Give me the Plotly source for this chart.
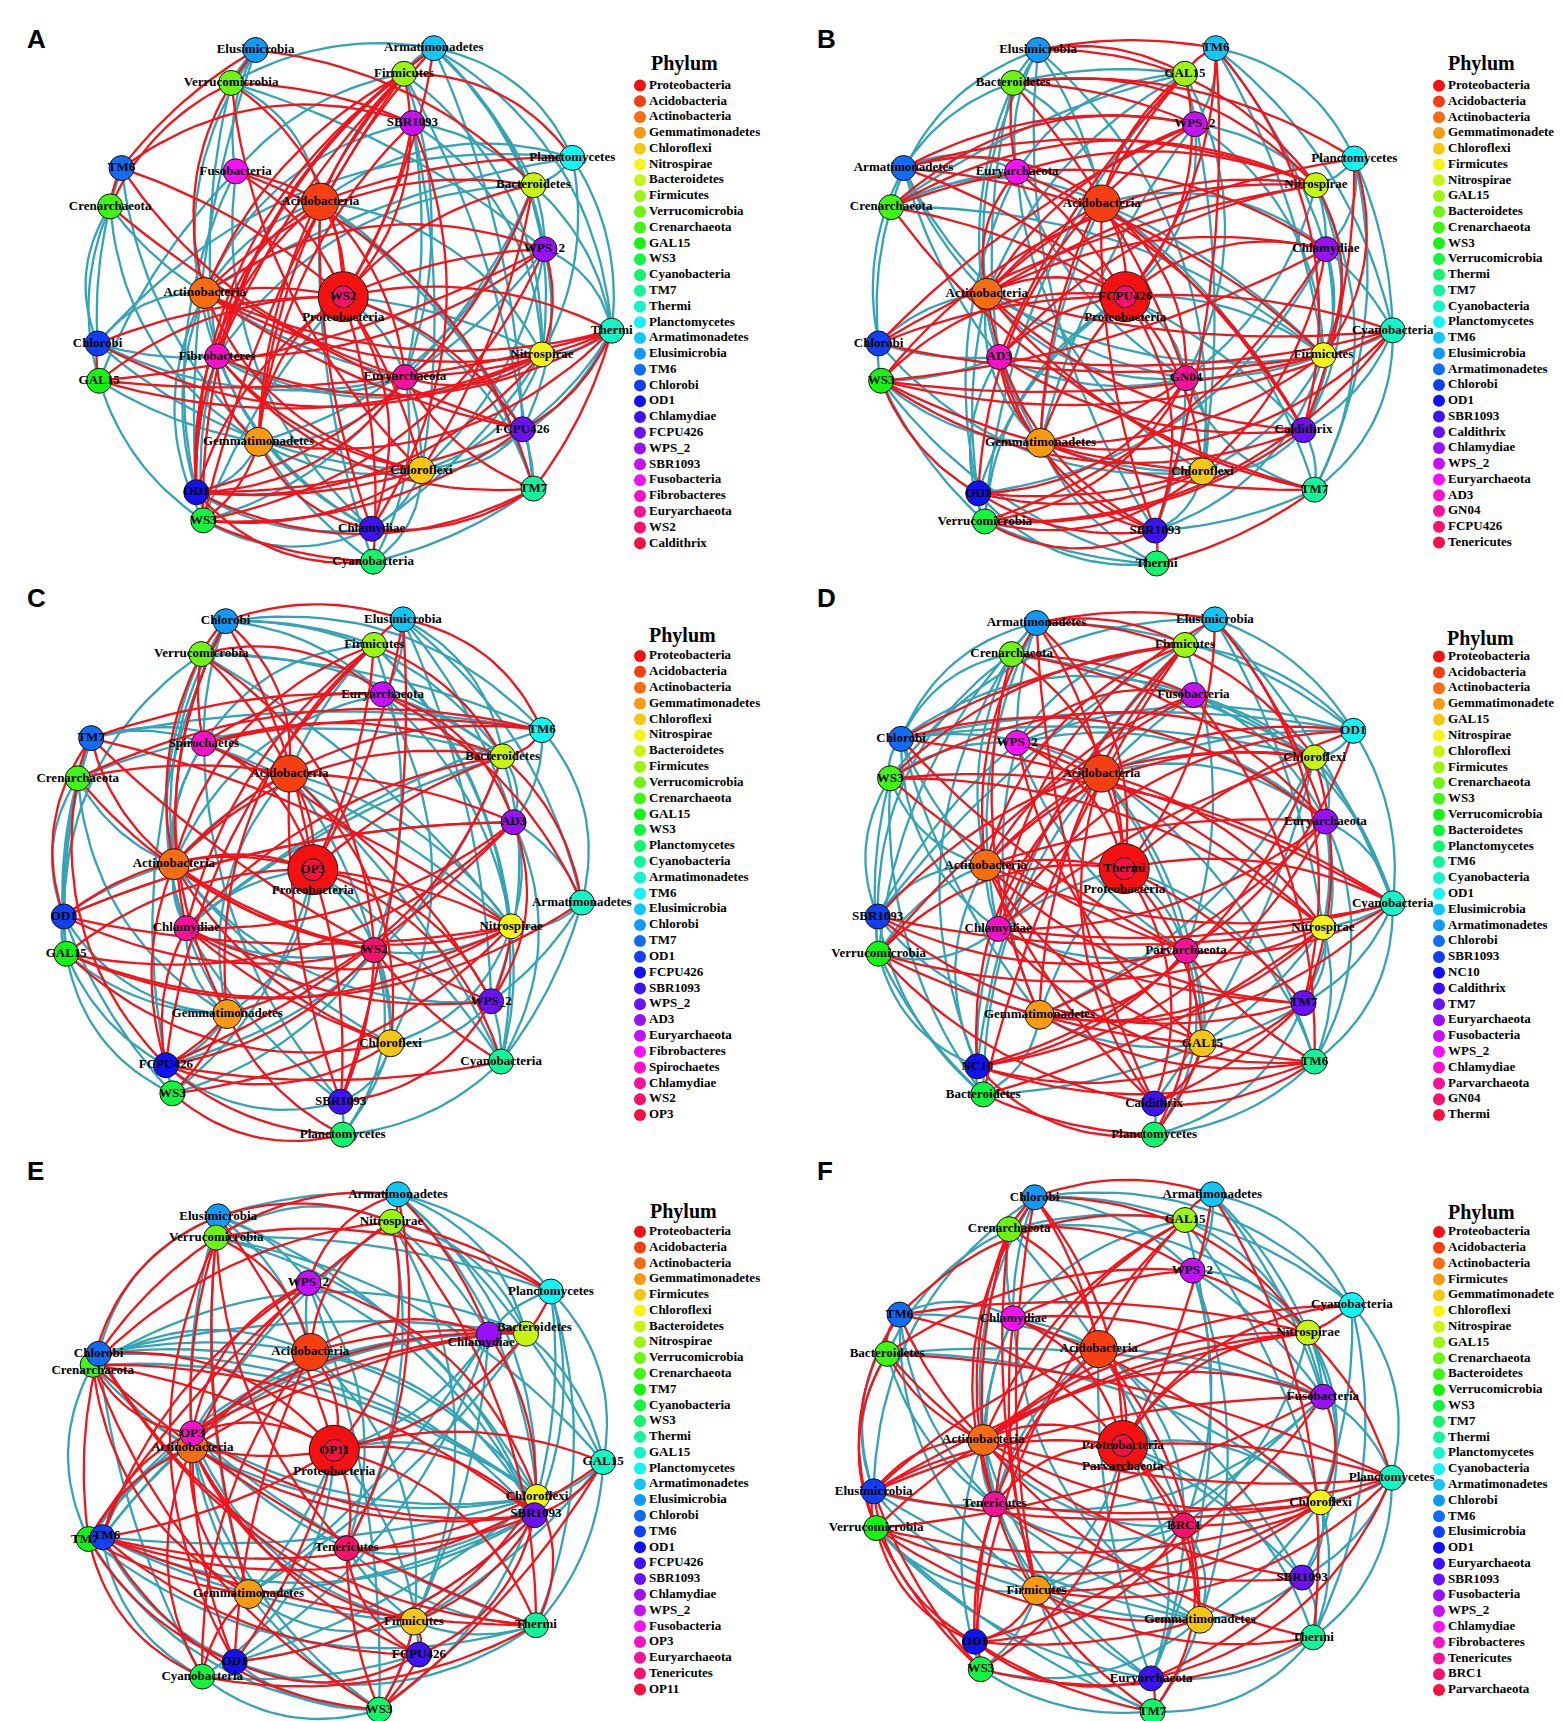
import math
import colorsys
import plotly.graph_objects as go

W, H = 1562, 1721

# ---------------- data ----------------
# node names by slot, coordinates in panel units (0..1568 each way), legend order (abundance rank)
A_nodes = ["Elusimicrobia", "Verrucomicrobia", "Armatimonadetes", "Firmicutes", "SBR1093", "Planctomycetes",
           "TM6", "Fusobacteria", "Crenarchaeota", "Bacteroidetes", "Acidobacteria", "WPS_2", "Actinobacteria",
           "Proteobacteria", "Thermi", "Chlorobi", "Fibrobacteres", "Nitrospirae", "GAL15", "Euryarchaeota",
           "FCPU426", "Gemmatimonadetes", "Chloroflexi", "TM7", "OD1", "WS3", "Chlamydiae", "Cyanobacteria", "WS2"]
A_x = [497, 448, 855, 795, 812, 1133, 228, 457, 205, 1055, 627, 1077, 395, 673, 1212, 180, 420, 1072, 183, 797,
       1033, 503, 830, 1055, 378, 392, 730, 733, 673]
A_y = [115, 205, 110, 180, 315, 410, 438, 447, 543, 485, 530, 660, 780, 790, 883, 918, 953, 948, 1020, 1010,
       1153, 1187, 1265, 1315, 1325, 1402, 1425, 1515, 790]
A_legend = ["Proteobacteria", "Acidobacteria", "Actinobacteria", "Gemmatimonadetes", "Chloroflexi", "Nitrospirae",
            "Bacteroidetes", "Firmicutes", "Verrucomicrobia", "Crenarchaeota", "GAL15", "WS3", "Cyanobacteria",
            "TM7", "Thermi", "Planctomycetes", "Armatimonadetes", "Elusimicrobia", "TM6", "Chlorobi", "OD1",
            "Chlamydiae", "FCPU426", "WPS_2", "SBR1093", "Fusobacteria", "Fibrobacteres", "Euryarchaeota", "WS2",
            "Caldithrix"]
A_red = ("0-6 0-9 0-12 1-4 1-8 1-13 2-13 2-16 2-25 3-10 3-12 3-13 3-16 3-21 3-24 4-13 4-21 4-26 6-8 6-19 6-4 "
         "7-10 7-13 7-23 8-20 9-13 9-12 9-22 10-13 10-24 10-26 10-19 11-12 11-13 11-16 11-25 12-13 12-17 12-22 "
         "13-15 13-18 13-21 13-22 13-24 13-26 13-27 13-20 14-16 14-19 14-20 14-21 14-23 14-13 15-17 15-18 16-22 "
         "16-23 16-24 17-18 17-24 18-14 19-23 19-24 20-24 21-25 21-26 22-24 22-25 24-27 25-27 23-26 5-3 5-10 "
         "11-17 16-21 3-25 2-21 10-16 12-20 14-12 17-19 18-11 20-25 24-23 6-13 1-22 9-24")
A_teal = ("0-1 0-7 0-16 0-24 1-2 1-10 1-11 2-3 2-5 2-9 2-11 2-17 2-20 3-7 3-17 3-23 4-9 4-17 4-22 5-9 5-10 5-12 "
          "5-14 5-15 7-18 7-24 7-26 8-12 8-18 8-21 9-11 9-14 9-16 9-19 10-12 10-17 10-20 10-23 11-14 11-19 11-20 "
          "12-15 12-19 12-24 12-25 13-17 13-19 13-23 13-25 14-17 14-22 15-16 15-22 16-19 16-25 16-26 17-22 17-26 "
          "18-25 19-21 19-22 19-25 20-22 20-23 21-22 21-24 21-27 22-26 22-27 23-27 24-26 25-26 6-15 6-21 8-15 "
          "1-16 3-19 4-12 4-19 5-17 9-21 10-27 11-22 12-26 14-20 15-19 16-17 18-21 19-27 2-14")

B_nodes = ["Elusimicrobia", "Bacteroidetes", "TM6", "GAL15", "WPS_2", "Planctomycetes", "Armatimonadetes",
           "Euryarchaeota", "Crenarchaeota", "Nitrospirae", "Acidobacteria", "Chlamydiae", "Actinobacteria",
           "Proteobacteria", "Cyanobacteria", "Chlorobi", "AD3", "Firmicutes", "WS3", "GN04", "Caldithrix",
           "Gemmatimonadetes", "Chloroflexi", "TM7", "OD1", "Verrucomicrobia", "SBR1093", "Thermi", "FCPU426"]
B_x = [500, 450, 857, 795, 815, 1135, 230, 458, 205, 1058, 628, 1078, 397, 675, 1212, 180, 422, 1073, 185, 797,
       1033, 505, 830, 1055, 380, 393, 735, 738, 675]
B_y = [115, 205, 110, 180, 318, 412, 438, 448, 545, 485, 535, 660, 782, 790, 882, 918, 955, 950, 1020, 1013,
       1155, 1190, 1268, 1318, 1328, 1405, 1430, 1520, 790]
B_legend = ["Proteobacteria", "Acidobacteria", "Actinobacteria", "Gemmatimonadetes", "Chloroflexi", "Firmicutes",
            "Nitrospirae", "GAL15", "Bacteroidetes", "Crenarchaeota", "WS3", "Verrucomicrobia", "Thermi", "TM7",
            "Cyanobacteria", "Planctomycetes", "TM6", "Elusimicrobia", "Armatimonadetes", "Chlorobi", "OD1",
            "SBR1093", "Caldithrix", "Chlamydiae", "WPS_2", "Euryarchaeota", "AD3", "GN04", "FCPU426",
            "Tenericutes"]
B_red = ("0-2 0-3 0-9 1-4 1-5 1-9 1-19 2-3 2-20 2-26 3-10 3-13 3-16 4-6 4-8 4-15 4-12 5-17 5-20 6-9 6-10 6-13 "
         "6-17 7-12 7-13 7-20 8-9 8-13 8-23 9-12 9-15 9-16 9-18 10-12 10-13 10-19 10-20 11-12 11-13 11-18 11-22 "
         "12-13 12-14 12-20 12-26 13-14 13-16 13-18 13-21 13-22 13-26 14-16 14-18 14-25 15-13 16-21 16-26 17-18 "
         "17-21 18-20 18-22 18-24 19-24 19-21 20-25 21-26 21-23 22-24 22-25 23-27 24-26 25-26 26-27 11-25 17-9 "
         "1-7 3-21 4-24 5-12 7-9 8-11 10-26 12-23 14-21 15-17 16-20 19-25 24-22 2-13")
B_teal = ("0-1 0-7 0-8 0-10 0-12 0-22 1-3 1-6 1-10 1-16 2-4 2-5 2-11 2-14 3-7 3-8 3-12 3-19 3-22 4-9 4-17 4-21 "
          "5-9 5-11 5-14 5-23 6-7 6-16 6-15 6-19 7-8 7-24 7-22 8-15 8-17 8-10 9-11 9-19 9-23 10-17 10-23 10-11 "
          "11-14 11-20 11-24 12-16 12-17 12-19 12-24 13-17 13-19 13-20 13-24 13-25 14-17 14-20 14-23 15-18 15-12 "
          "15-22 16-18 16-19 16-25 17-19 17-22 17-26 18-25 18-27 19-22 19-26 20-23 20-22 21-22 21-27 22-26 23-26 "
          "24-25 24-27 25-27 0-26 1-21 2-17 3-25 4-13 6-12 7-19 9-20 10-21 11-17 12-21 15-16 18-21 19-23")

C_nodes = ["Chlorobi", "Verrucomicrobia", "Elusimicrobia", "Firmicutes", "Euryarchaeota", "TM6", "TM7",
           "Spirochaetes", "Crenarchaeota", "Bacteroidetes", "Acidobacteria", "AD3", "Actinobacteria",
           "Proteobacteria", "Armatimonadetes", "OD1", "Chlamydiae", "Nitrospirae", "GAL15", "WS2", "WPS_2",
           "Gemmatimonadetes", "Chloroflexi", "Cyanobacteria", "FCPU426", "WS3", "SBR1093", "Planctomycetes", "OP3"]
C_x = [437, 388, 793, 735, 752, 1072, 167, 393, 140, 993, 565, 1015, 333, 612, 1152, 112, 358, 1010, 117, 735,
       970, 440, 768, 990, 317, 330, 668, 672, 612]
C_y = [110, 200, 105, 175, 310, 408, 430, 445, 540, 480, 527, 660, 775, 790, 880, 918, 950, 945, 1020, 1010,
       1150, 1185, 1265, 1315, 1325, 1402, 1425, 1515, 790]
C_legend = ["Proteobacteria", "Acidobacteria", "Actinobacteria", "Gemmatimonadetes", "Chloroflexi", "Nitrospirae",
            "Bacteroidetes", "Firmicutes", "Verrucomicrobia", "Crenarchaeota", "GAL15", "WS3", "Planctomycetes",
            "Cyanobacteria", "Armatimonadetes", "TM6", "Elusimicrobia", "Chlorobi", "TM7", "OD1", "FCPU426",
            "SBR1093", "WPS_2", "AD3", "Euryarchaeota", "Fibrobacteres", "Spirochaetes", "Chlamydiae", "WS2", "OP3"]
C_red = ("0-1 0-2 0-10 0-13 0-16 1-4 1-10 1-12 1-19 1-7 2-3 2-5 2-26 3-9 3-12 3-13 3-16 3-21 4-6 4-7 4-11 5-7 "
         "5-8 5-9 6-8 6-12 6-15 6-20 7-9 7-13 8-10 8-19 8-24 9-13 9-16 9-21 10-11 10-13 10-22 11-15 11-16 11-20 "
         "11-24 12-13 12-17 12-19 12-24 13-15 13-17 13-18 13-20 13-26 14-4 14-18 15-17 15-19 16-17 16-22 16-24 "
         "17-18 17-20 17-25 18-11 19-23 19-24 20-26 21-25 21-27 22-24 23-24 24-27 25-27 26-19 14-9 "
         "0-21 2-13 3-24 5-12 6-17 7-20 9-12 10-26 12-22 13-23 15-11 16-20 18-22 24-21")
C_teal = ("0-3 0-4 0-5 0-7 0-12 0-9 1-5 1-9 1-15 1-17 2-4 2-9 2-11 2-14 3-7 3-10 3-19 3-23 4-9 4-17 4-22 5-6 "
          "5-11 5-14 5-16 6-7 6-10 6-18 7-12 7-16 7-17 8-12 8-15 8-18 8-9 9-11 9-16 9-20 9-24 10-12 10-17 10-21 "
          "10-23 11-14 11-23 12-15 12-16 12-20 12-22 13-16 13-21 13-23 13-25 14-17 14-23 15-18 15-21 15-25 16-19 "
          "16-21 16-26 17-19 17-22 17-23 18-21 18-25 19-22 19-25 20-22 20-23 21-24 22-26 22-27 23-27 24-26 26-27 "
          "0-25 1-21 2-20 3-17 4-12 6-15 7-26 8-21 10-19 11-17 13-22 14-20 18-24 19-27")

D_nodes = ["Armatimonadetes", "Crenarchaeota", "Elusimicrobia", "Firmicutes", "Fusobacteria", "OD1", "Chlorobi",
           "WPS_2", "WS3", "Chloroflexi", "Acidobacteria", "Euryarchaeota", "Actinobacteria", "Proteobacteria",
           "Cyanobacteria", "SBR1093", "Chlamydiae", "Nitrospirae", "Verrucomicrobia", "Parvarchaeota", "TM7",
           "Gemmatimonadetes", "GAL15", "TM6", "NC10", "Bacteroidetes", "Caldithrix", "Planctomycetes", "Thermi"]
D_x = [497, 447, 855, 795, 812, 1133, 225, 458, 203, 1055, 627, 1077, 395, 673, 1212, 178, 420, 1072, 180, 797,
       1033, 503, 830, 1055, 378, 390, 733, 733, 673]
D_y = [115, 200, 105, 175, 312, 410, 432, 443, 540, 483, 527, 658, 778, 787, 882, 918, 952, 948, 1020, 1012,
       1155, 1187, 1265, 1315, 1328, 1405, 1430, 1515, 787]
D_legend = ["Proteobacteria", "Acidobacteria", "Actinobacteria", "Gemmatimonadetes", "GAL15", "Nitrospirae",
            "Chloroflexi", "Firmicutes", "Crenarchaeota", "WS3", "Verrucomicrobia", "Bacteroidetes",
            "Planctomycetes", "TM6", "Cyanobacteria", "OD1", "Elusimicrobia", "Armatimonadetes", "Chlorobi",
            "SBR1093", "NC10", "Caldithrix", "TM7", "Euryarchaeota", "Fusobacteria", "WPS_2", "Chlamydiae",
            "Parvarchaeota", "GN04", "Thermi"]
D_red = ("0-2 0-3 0-9 0-10 0-12 0-13 1-4 1-11 1-13 2-11 2-13 2-20 3-6 3-8 3-12 3-16 3-21 4-7 4-18 4-23 5-12 "
         "5-13 5-19 6-11 6-14 7-10 7-13 7-17 7-22 8-9 8-19 8-17 9-12 9-16 9-20 9-24 10-13 10-17 10-26 11-12 11-16 "
         "11-24 12-13 12-14 12-23 12-26 13-14 13-18 13-20 13-22 13-26 14-16 14-19 14-21 15-17 15-19 15-20 16-20 "
         "17-18 17-21 18-22 18-26 19-21 19-23 19-24 20-24 20-26 21-23 22-26 22-27 23-24 24-27 25-27 26-23 15-9 "
         "0-26 1-21 2-16 3-25 4-12 5-16 6-19 8-14 10-24 11-21 12-20 16-23 17-25 19-27")
D_teal = ("0-1 0-5 0-6 0-7 0-16 1-6 1-9 1-12 1-15 2-3 2-5 2-8 2-14 3-5 3-7 3-15 3-24 4-6 4-9 4-11 4-25 5-6 5-7 "
          "5-9 5-10 5-14 6-8 6-9 6-10 6-16 6-21 7-8 7-11 7-15 7-19 8-15 8-18 8-25 9-11 9-14 9-21 10-11 10-19 "
          "10-23 11-14 11-17 11-20 12-15 12-16 12-18 12-24 13-16 13-19 13-23 14-17 14-20 14-23 15-18 15-21 16-18 "
          "16-24 16-19 17-20 17-22 17-23 18-24 18-25 19-22 19-27 20-22 21-22 21-25 22-25 23-27 24-25 26-27 "
          "0-18 1-24 2-17 3-19 4-14 6-12 7-21 8-12 9-26 10-22 11-23 13-21 15-25 20-27")

E_nodes = ["Elusimicrobia", "Verrucomicrobia", "Armatimonadetes", "Nitrospirae", "WPS_2", "Planctomycetes",
           "Bacteroidetes", "Chlamydiae", "Crenarchaeota", "Chlorobi", "Acidobacteria", "Actinobacteria", "OP3",
           "Proteobacteria", "GAL15", "Chloroflexi", "SBR1093", "TM7", "TM6", "Tenericutes", "Gemmatimonadetes",
           "Firmicutes", "Thermi", "FCPU426", "OD1", "Cyanobacteria", "WS3", "OP11"]
E_x = [422, 418, 783, 770, 603, 1090, 1040, 965, 170, 182, 607, 370, 370, 655, 1195, 1062, 1057, 162, 190, 680,
       483, 815, 1060, 825, 455, 390, 745, 655]
E_y = [170, 228, 110, 185, 352, 375, 490, 492, 575, 545, 540, 800, 762, 808, 840, 935, 985, 1050, 1045, 1075,
       1200, 1275, 1285, 1365, 1385, 1425, 1515, 808]
E_legend = ["Proteobacteria", "Acidobacteria", "Actinobacteria", "Gemmatimonadetes", "Firmicutes", "Chloroflexi",
            "Bacteroidetes", "Nitrospirae", "Verrucomicrobia", "Crenarchaeota", "TM7", "Cyanobacteria", "WS3",
            "Thermi", "GAL15", "Planctomycetes", "Armatimonadetes", "Elusimicrobia", "Chlorobi", "TM6", "OD1",
            "FCPU426", "SBR1093", "Chlamydiae", "WPS_2", "Fusobacteria", "OP3", "Euryarchaeota", "Tenericutes",
            "OP11"]
E_red = ("0-1 0-3 0-8 0-13 1-2 1-10 1-11 1-19 1-24 1-9 2-3 2-4 2-7 3-8 3-13 3-17 3-22 4-12 4-11 4-18 4-15 5-6 "
         "5-1 6-7 6-10 6-12 7-10 7-11 7-16 8-12 8-13 8-16 8-20 8-22 8-26 9-13 9-17 9-21 10-13 10-11 10-25 12-13 "
         "12-7 12-16 12-18 11-13 11-16 11-21 11-24 13-14 13-16 13-18 13-19 13-22 13-24 14-16 14-18 14-26 15-18 "
         "15-22 16-19 16-21 16-23 17-20 17-24 17-25 18-22 18-23 19-23 19-26 20-25 21-23 21-26 22-25 23-24 23-26 "
         "24-16 25-11 0-20 2-19 3-10 5-3 6-13 9-22 10-24 11-23 12-20 15-21 17-11 18-26")
E_teal = ("0-2 0-4 0-9 0-12 0-15 1-3 1-5 1-14 1-16 1-20 2-5 2-6 2-14 2-15 3-6 3-12 3-19 3-21 4-10 4-16 4-19 4-26 "
          "5-7 5-14 5-15 5-22 6-8 6-9 6-14 6-18 6-20 7-13 7-17 7-21 7-24 8-10 8-11 8-15 8-17 9-10 9-11 9-16 9-25 "
          "10-15 10-16 10-18 12-15 12-21 12-22 11-15 11-18 11-20 11-26 13-15 13-20 13-23 13-25 14-21 14-22 15-19 "
          "15-24 15-26 16-18 16-20 16-24 17-26 18-21 18-24 18-25 19-21 19-22 20-21 20-26 21-22 22-24 23-25 24-26 "
          "25-26 26-21 0-10 2-16 3-7 5-16 6-17 7-20 9-15 10-21 12-19 14-15 17-22 18-15")

F_nodes = ["Chlorobi", "Crenarchaeota", "Armatimonadetes", "GAL15", "WPS_2", "Cyanobacteria", "TM6", "Chlamydiae",
           "Bacteroidetes", "Nitrospirae", "Acidobacteria", "Fusobacteria", "Actinobacteria", "Proteobacteria",
           "Planctomycetes", "Elusimicrobia", "Tenericutes", "Chloroflexi", "Verrucomicrobia", "BRC1", "SBR1093",
           "Firmicutes", "Gemmatimonadetes", "Thermi", "OD1", "WS3", "Euryarchaeota", "TM7", "Parvarchaeota"]
F_x = [493, 442, 850, 795, 810, 1130, 222, 450, 197, 1042, 622, 1072, 390, 670, 1210, 170, 413, 1067, 175, 793,
       1030, 497, 825, 1052, 373, 385, 727, 730, 670]
F_y = [118, 205, 110, 180, 318, 412, 438, 448, 545, 487, 532, 662, 780, 795, 883, 920, 955, 950, 1020, 1013,
       1155, 1190, 1270, 1318, 1330, 1405, 1430, 1520, 795]
F_legend = ["Proteobacteria", "Acidobacteria", "Actinobacteria", "Firmicutes", "Gemmatimonadetes", "Chloroflexi",
            "Nitrospirae", "GAL15", "Crenarchaeota", "Bacteroidetes", "Verrucomicrobia", "WS3", "TM7", "Thermi",
            "Planctomycetes", "Cyanobacteria", "Armatimonadetes", "Chlorobi", "TM6", "Elusimicrobia", "OD1",
            "Euryarchaeota", "SBR1093", "Fusobacteria", "WPS_2", "Chlamydiae", "Fibrobacteres", "Tenericutes",
            "BRC1", "Parvarchaeota"]
F_red = ("0-1 0-2 0-9 0-10 0-13 0-16 0-21 1-4 1-10 1-12 1-16 2-3 2-13 2-23 3-6 3-10 3-12 3-16 4-7 4-8 4-14 5-9 "
         "5-12 6-8 6-9 6-13 6-18 6-12 7-11 7-13 7-21 8-12 8-18 8-14 9-12 9-13 9-15 9-18 10-13 10-15 10-22 11-12 "
         "11-18 11-24 12-13 12-14 12-17 12-15 13-14 13-15 13-16 13-19 13-22 13-25 14-16 14-18 14-26 15-17 15-18 "
         "15-24 16-24 16-20 17-18 17-19 17-21 18-24 18-25 18-22 19-24 20-26 21-23 21-24 22-24 23-25 24-26 24-27 "
         "26-27 17-11 1-21 3-24 5-13 7-17 8-20 10-25 11-15 12-23 14-21 15-25 16-27 19-27")
F_teal = ("0-3 0-4 0-5 0-7 0-12 1-5 1-7 1-8 1-9 1-19 2-4 2-5 2-11 3-7 3-11 3-17 3-26 4-9 4-11 4-22 5-14 5-17 "
          "5-23 6-7 6-10 6-16 6-15 7-10 7-16 7-22 8-11 8-17 8-15 9-11 9-19 9-20 10-11 10-16 10-19 10-26 11-14 "
          "11-16 11-21 12-16 12-19 12-21 12-25 13-17 13-20 13-21 13-26 14-17 14-20 14-23 15-16 15-21 16-19 16-22 "
          "16-26 17-20 17-22 17-23 18-21 18-27 19-21 19-22 19-26 20-22 20-23 21-22 21-25 22-25 22-27 23-26 23-27 "
          "24-25 25-27 0-15 2-9 4-19 6-21 7-12 8-16 9-17 10-20 12-26 13-23 15-22 18-26 21-27")

# ---------------- layout / style ----------------
PANELS = [
    dict(letter="A", nodes=A_nodes, x=A_x, y=A_y, legend=A_legend, red=A_red, teal=A_teal,
         x0=0, y0=0, h=573, lx=28, ly=31, below="outer", lmx=632, ltx=676, lty=55, le0=77.5, le1=535.3),
    dict(letter="B", nodes=B_nodes, x=B_x, y=B_y, legend=B_legend, red=B_red, teal=B_teal,
         x0=781, y0=0, h=573, lx=818, ly=31, below="outer", lmx=1431, ltx=1473, lty=55, le0=77.8, le1=534.6),
    dict(letter="C", nodes=C_nodes, x=C_x, y=C_y, legend=C_legend, red=C_red, teal=C_teal,
         x0=0, y0=573, h=573, lx=28, ly=590, below="outer", lmx=632, ltx=674, lty=627, le0=648, le1=1107),
    dict(letter="D", nodes=D_nodes, x=D_x, y=D_y, legend=D_legend, red=D_red, teal=D_teal,
         x0=781, y0=573, h=573, lx=818, ly=590, below="outer", lmx=1431, ltx=1472, lty=630, le0=648.6, le1=1107),
    dict(letter="E", nodes=E_nodes, x=E_x, y=E_y, legend=E_legend, red=E_red, teal=E_teal,
         x0=0, y0=1146, h=575, lx=27, ly=1163, below="outer", lmx=632, ltx=675, lty=1203, le0=1223.7, le1=1681.4),
    dict(letter="F", nodes=F_nodes, x=F_x, y=F_y, legend=F_legend, red=F_red, teal=F_teal,
         x0=781, y0=1146, h=575, lx=817, ly=1163, below="inner", lmx=1431, ltx=1473, lty=1204, le0=1224, le1=1682),
]

# label nudges (panel units) where the reference places a label off its node centre
LABEL_SHIFT = {
    "E": {"Crenarchaeota": (0, 17), "Chlamydiae": (-15, 24), "Bacteroidetes": (17, -15),
          "TM7": (-8, 2), "TM6": (8, -3), "SBR1093": (3, -5)},
}

RED = "#F2131B"
TEAL = "#35A3B6"
SERIF = "Liberation Serif, Times New Roman, serif"
SANS = "Liberation Sans, Arial, sans-serif"
SIZE_BY_RANK = [50, 37, 31, 29, 27]
SMALL = 25
INNER = 22


def rank_color(rank, n):
    r, g, b = colorsys.hsv_to_rgb(rank / n, 0.93, 0.96)
    return "rgb(%d,%d,%d)" % (round(r * 255), round(g * 255), round(b * 255))


def curve(p0, p2, c, k, steps=22):
    dx, dy = p2[0] - p0[0], p2[1] - p0[1]
    L = math.hypot(dx, dy) or 1.0
    nx, ny = -dy / L, dx / L
    mx, my = (p0[0] + p2[0]) / 2, (p0[1] + p2[1]) / 2
    if nx * (mx - c[0]) + ny * (my - c[1]) < 0:
        nx, ny = -nx, -ny
    cx, cy = mx + nx * k * L, my + ny * k * L
    xs, ys = [], []
    for s in range(steps + 1):
        t = s / steps
        a, b2, cc = (1 - t) ** 2, 2 * t * (1 - t), t ** 2
        xs.append(a * p0[0] + b2 * cx + cc * p2[0])
        ys.append(a * p0[1] + b2 * cy + cc * p2[1])
    return xs, ys


fig = go.Figure()

for P in PANELS:
    sx = 781 / 1568.0
    sy = P["h"] / 1568.0
    px = [P["x0"] + v * sx for v in P["x"]]
    py = [P["y0"] + v * sy for v in P["y"]]
    names = P["nodes"]
    n_out = len(names) - 1          # last entry is the node drawn inside Proteobacteria
    cxm = sum(px[:n_out]) / n_out
    cym = sum(py[:n_out]) / n_out
    leg = P["legend"]
    nleg = len(leg)

    for key, col in (("teal", TEAL), ("red", RED)):
        xs_all, ys_all = [], []
        for idx, pair in enumerate(P[key].split()):
            i, j = (int(t) for t in pair.split("-"))
            k = 0.10 + 0.08 * (idx % 3)
            xs, ys = curve((px[i], py[i]), (px[j], py[j]), (cxm, cym), k)
            xs_all += xs + [None]
            ys_all += ys + [None]
        fig.add_trace(go.Scatter(x=xs_all, y=ys_all, mode="lines", line=dict(color=col, width=2.3),
                                 hoverinfo="skip", showlegend=False))

    ranks = [leg.index(nm) for nm in names]
    sizes = [SIZE_BY_RANK[r] if r < len(SIZE_BY_RANK) else SMALL for r in ranks]
    sizes[-1] = INNER
    colors = [rank_color(r, nleg) for r in ranks]
    fig.add_trace(go.Scatter(x=px, y=py, mode="markers",
                             marker=dict(size=sizes, color=colors, line=dict(color="#111111", width=1), opacity=1),
                             hoverinfo="skip", showlegend=False))

    # labels (centred on nodes); one of the two stacked labels sits below the big node
    prot = names.index("Proteobacteria")
    tx = list(px)
    ty = list(py)
    if P["below"] == "outer":
        ty[prot] = py[prot] + 21
    else:
        ty[n_out] = py[n_out] + 21
    for nm, (ddx, ddy) in LABEL_SHIFT.get(P["letter"], {}).items():
        i = names.index(nm)
        tx[i] += ddx * sx
        ty[i] += ddy * sy
    fig.add_trace(go.Scatter(x=tx, y=ty, mode="text", text=names, textposition="middle center",
                             textfont=dict(family=SERIF, size=13, color="black", weight="bold"),
                             hoverinfo="skip", showlegend=False))

    # legend
    step = (P["le1"] - P["le0"]) / (nleg - 1)
    ly = [P["le0"] + i * step for i in range(nleg)]
    fig.add_trace(go.Scatter(x=[P["lmx"]] * nleg, y=ly, mode="markers",
                             marker=dict(size=12, color=[rank_color(i, nleg) for i in range(nleg)], line=dict(width=0)),
                             hoverinfo="skip", showlegend=False))
    fig.add_trace(go.Scatter(x=[P["lmx"] + 9] * nleg, y=ly, mode="text", text=leg, textposition="middle right",
                             textfont=dict(family=SERIF, size=13, color="black", weight="bold"),
                             hoverinfo="skip", showlegend=False))
    fig.add_annotation(x=P["ltx"], y=P["lty"], text="Phylum", showarrow=False, xref="x", yref="y",
                       font=dict(family=SERIF, size=20, color="black", weight="bold"))
    fig.add_annotation(x=P["lx"], y=P["ly"], text=P["letter"], showarrow=False, xref="x", yref="y",
                       font=dict(family=SANS, size=26, color="black", weight="bold"))

fig.update_layout(
    width=W, height=H, margin=dict(l=0, r=0, t=0, b=0),
    paper_bgcolor="white", plot_bgcolor="white", showlegend=False,
    xaxis=dict(range=[0, W], visible=False, fixedrange=True),
    yaxis=dict(range=[H, 0], visible=False, fixedrange=True),
)

fig.write_html("out.html")
